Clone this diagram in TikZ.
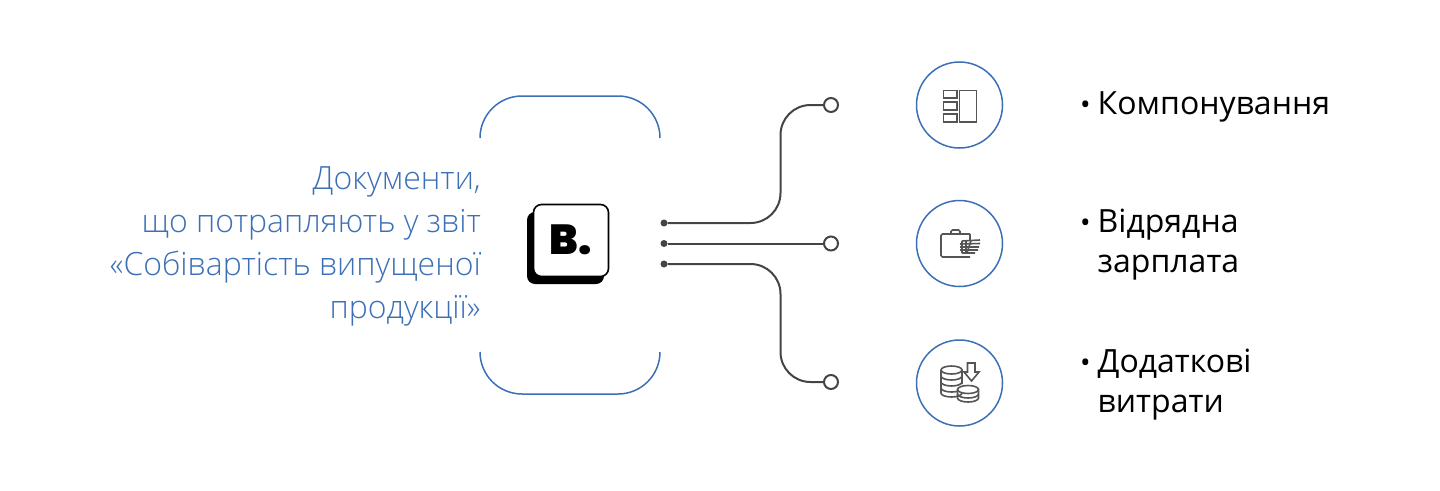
\documentclass[tikz,border=0pt]{standalone}
\usepackage{fontspec}
\setmainfont{Open Sans}
\newfontfamily\lightfont{Open Sans Light}
\newfontfamily\logofont{Poppins Black}
\usetikzlibrary{calc, positioning}
\definecolor{frameblue}{HTML}{3B6FB6}
\definecolor{wiregray}{HTML}{444444}
\definecolor{icongray}{HTML}{555555}
\tikzset{
  frameline/.style={draw=frameblue, line width=1.5pt, rounded corners=42pt},
  wire/.style={draw=wiregray, line width=2pt, rounded corners=30pt},
  startdot/.style={circle, fill=wiregray, inner sep=0pt, minimum size=7pt, outer sep=0pt},
  enddot/.style={circle, draw=wiregray, fill=white, line width=2pt, inner sep=0pt, minimum size=14pt, outer sep=0pt},
  iconring/.style={circle, draw=frameblue, line width=1.5pt, inner sep=0pt, minimum size=86pt, outer sep=0pt},
  iconline/.style={draw=icongray, line width=1.6pt},
  itemlabel/.style={anchor=west, align=left, font=\fontsize{32}{40}\selectfont, inner sep=0pt, text=black, yshift=-1.5pt}
}
\newcommand{\itembullet}{\llap{\fontsize{28}{28}\selectfont •\hspace{7pt}}}
\begin{document}
\begin{tikzpicture}[x=1pt, y=-1pt]
\useasboundingbox (0,0) rectangle (1440,490);

% frame round the logo
\draw [frameline] (480,138) -- (480,96) -- (660,96) -- (660,138);
\draw [frameline] (480,352) -- (480,394) -- (660,394) -- (660,352);

% logo
\fill [black, rounded corners=8pt] (527,212) rectangle (604,284);
\node [draw=black, fill=white, line width=1.6pt, rounded corners=8pt, minimum width=75pt,
       minimum height=72pt, inner sep=0pt] (logo) at (571,240.5)
      {\raisebox{2pt}{\logofont\fontsize{42}{42}\selectfont B.}};

\node [anchor=east, align=right, inner sep=0pt, text=frameblue,
       font=\lightfont\fontsize{32}{43}\selectfont] (title) at (481,246)
      {Документи,\\що потрапляють у звіт\\«Собівартість випущеної\\продукції»};

% connectors
\begin{scope}
\node [startdot] (s1) at (664,223) {};
\node [startdot] (s2) at (664,243.5) {};
\node [startdot] (s3) at (664,264) {};
\node [enddot]   (e1) at (831,105) {};
\node [enddot]   (e2) at (831,243.5) {};
\node [enddot]   (e3) at (831,382) {};
\coordinate (trunk) at (780.5,244);
\draw [wire] (s1) -- (trunk |- s1) -- (trunk |- e1) -- (e1);
\draw [wire] (s2) -- (e2);
\draw [wire] (s3) -- (trunk |- s3) -- (trunk |- e3) -- (e3);
\end{scope}

% rings and labels
\node [iconring, right=78.5pt of e1] (ring1) {};
\node [iconring, right=78.5pt of e2] (ring2) {};
\node [iconring, right=78.5pt of e3, yshift=-1pt] (ring3) {};
\node [itemlabel, right=95pt of ring1] (item1) {\itembullet Компонування};
\node [itemlabel, right=95pt of ring2] (item2) {\itembullet Відрядна\\зарплата};
\node [itemlabel, right=95pt of ring3] (item3) {\itembullet Додаткові\\витрати};

% layout icon
\begin{scope}[iconline]
\draw (943.5,90.5) rectangle (957,98);
\draw (943.5,102) rectangle (957,110);
\draw (943.5,114) rectangle (957,122);
\draw (959.5,90.5) rectangle (976.5,122);
\end{scope}

% case with money
\begin{scope}[iconline, rounded corners=1.5pt]
\draw (970,234) -- (941,234) -- (941,257) -- (970,257);
\draw (951,234) -- (951,230) -- (960,230) -- (960,234);
\draw (970,234) -- (970,240);
\draw (962,241) -- (980,240) (960,244) -- (980,243.5) (960,247) -- (979,247) (960,250) -- (978,250) (962,253) -- (975,253);
\draw (962,241) -- (962,253) (966,241) -- (966,253) (971,240.5) -- (967,253);
\end{scope}

% coins and arrow
\begin{scope}[iconline]
\draw (941,370) -- (941,393) arc [start angle=180, end angle=360, x radius=10.5, y radius=-4]
      (962,370) -- (962,384);
\draw (951.5,370) ellipse [x radius=10.5, y radius=4];
\draw (941,376) arc [start angle=180, end angle=360, x radius=10.5, y radius=-4];
\draw (941,382) arc [start angle=180, end angle=360, x radius=10.5, y radius=-4];
\draw (941,388) arc [start angle=180, end angle=300, x radius=10.5, y radius=-4];
\draw [fill=white] (968,389.5) ellipse [x radius=10.5, y radius=4];
\draw (957.5,389.5) -- (957.5,398) arc [start angle=180, end angle=360, x radius=10.5, y radius=-4] -- (978.5,389.5);
\draw (957.5,394) arc [start angle=180, end angle=360, x radius=10.5, y radius=-4];
\draw [line join=miter] (967.5,363) -- (975,363) -- (975,372) -- (979,372) -- (971.5,381) -- (964,372) -- (967.5,372) -- cycle;
\end{scope}

\end{tikzpicture}
\end{document}
